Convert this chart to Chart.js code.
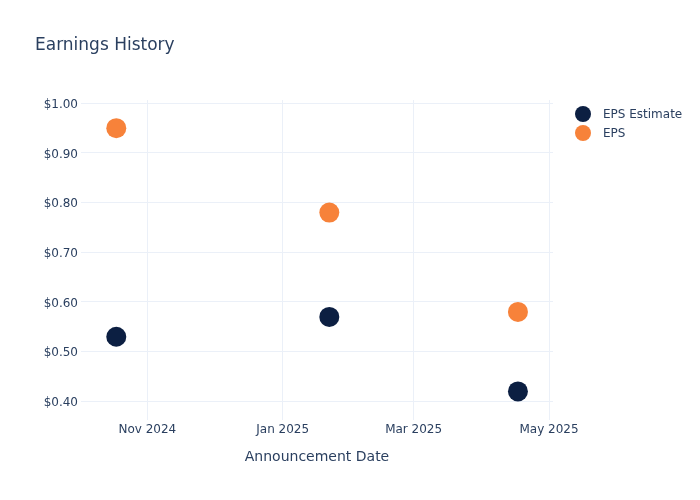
<!DOCTYPE html>
<html><head><meta charset="utf-8">
<script src="https://cdn.jsdelivr.net/npm/chart.js@4.4.1/dist/chart.umd.min.js"></script>
<style>html,body{margin:0;padding:0;background:#fff}#wrap{width:700px;height:500px}</style>
</head><body><div id="wrap"><canvas id="c" width="700" height="500"></canvas></div>
<script>
const announcementDates = ['2024-10-18', '2025-01-22', '2025-04-17'];
const epsEstimate = [0.53, 0.57, 0.42];
const epsActual = [0.95, 0.78, 0.58];
const xTickDates = ['2024-11-01', '2025-01-01', '2025-03-01', '2025-05-01'];
const yTickValues = [0.4, 0.5, 0.6, 0.7, 0.8, 0.9, 1.0];
const seriesNames = ['EPS Estimate', 'EPS'];
const seriesColors = ['#0c1f42', '#f7823a'];
const MONTHS = ['Jan','Feb','Mar','Apr','May','Jun','Jul','Aug','Sep','Oct','Nov','Dec'];

const FONT = 'DejaVu Sans';
const TXT = '#2a3f5f';
const GRID = '#ebf0f8';
const DAY = 86400000;
const toTs = s => Date.parse(s + 'T00:00:00Z');

const xMin = toTs('2024-10-02') + 0.1 * DAY;
const xMax = toTs('2025-05-02') + 0.8 * DAY;

const datasets = [epsEstimate, epsActual].map((vals, i) => ({
  label: seriesNames[i],
  data: announcementDates.map((d, j) => ({x: toTs(d), y: vals[j]})),
  backgroundColor: seriesColors[i],
  pointBackgroundColor: seriesColors[i],
  pointBorderColor: 'rgba(0,0,0,0)',
  pointRadius: 10,
  pointHoverRadius: 10,
  pointBorderWidth: 0,
  pointHoverBorderWidth: 0,
  showLine: false
}));

const titlePlugin = {
  id: 'titleLegend',
  afterDraw(chart) {
    const ctx = chart.ctx;
    ctx.save();
    ctx.fillStyle = TXT;
    ctx.font = '17px "' + FONT + '"';
    ctx.textAlign = 'left';
    ctx.textBaseline = 'alphabetic';
    ctx.fillText('Earnings History', 35, 50);
    chart.data.datasets.forEach((ds, i) => {
      const cy = 114 + i * 19;
      ctx.beginPath();
      ctx.arc(583, cy, 8, 0, Math.PI * 2);
      ctx.fillStyle = ds.pointBackgroundColor;
      ctx.fill();
      ctx.fillStyle = TXT;
      ctx.font = '12px "' + FONT + '"';
      ctx.textBaseline = 'middle';
      ctx.fillText(ds.label, 603, cy + 1);
    });
    ctx.restore();
  }
};

new Chart(document.getElementById('c'), {
  type: 'scatter',
  data: {datasets},
  plugins: [titlePlugin],
  options: {
    responsive: false,
    animation: false,
    events: [],
    elements: {point: {borderWidth: 0, hoverBorderWidth: 0}},
    layout: {padding: {top: 100, right: 147, left: 0, bottom: 0}},
    plugins: {legend: {display: false}, title: {display: false}, tooltip: {enabled: false}},
    scales: {
      x: {
        type: 'linear',
        min: xMin,
        max: xMax,
        afterFit(s) { s.height = 80; },
        afterBuildTicks(s) { s.ticks = xTickDates.map(d => ({value: toTs(d)})); },
        grid: {color: GRID, lineWidth: 1, drawTicks: false},
        border: {display: false},
        ticks: {
          padding: 3,
          color: TXT,
          font: {family: FONT, size: 12},
          maxRotation: 0,
          autoSkip: false,
          callback(v) { const d = new Date(v); return MONTHS[d.getUTCMonth()] + ' ' + d.getUTCFullYear(); }
        },
        title: {
          display: true,
          text: 'Announcement Date',
          color: TXT,
          font: {family: FONT, size: 14},
          padding: {top: 0, bottom: 34}
        }
      },
      y: {
        type: 'linear',
        min: 0.3624,
        max: 1.0067,
        afterFit(s) { s.width = 81; },
        afterBuildTicks(s) { s.ticks = yTickValues.map(v => ({value: v})); },
        grid: {color: GRID, lineWidth: 1, drawTicks: false},
        border: {display: false},
        ticks: {
          padding: 3,
          labelOffset: 1.5,
          color: TXT,
          font: {family: FONT, size: 12},
          callback(v) { return '$' + Number(v).toFixed(2); }
        }
      }
    }
  }
});
</script></body></html>
